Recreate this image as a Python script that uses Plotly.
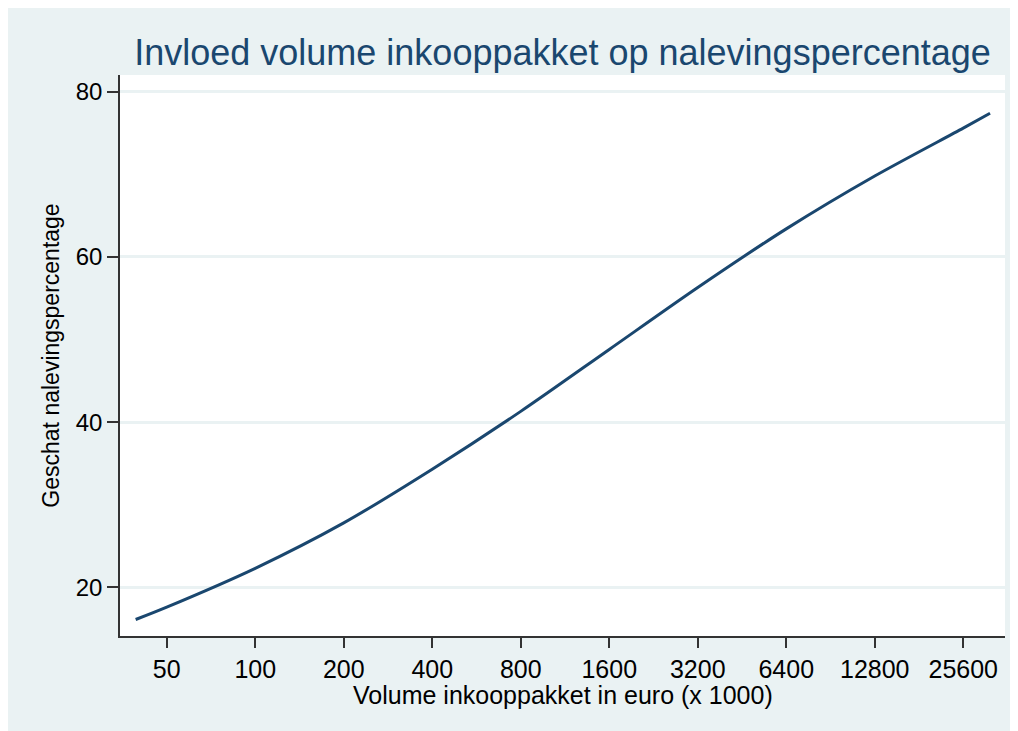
import plotly.graph_objects as go

# Volume inkooppakket (x 1000 euro) and geschat nalevingspercentage
volume = [39.2, 50, 100, 200, 400, 800, 1600, 3200, 6400, 12800, 25600, 31580]
naleving = [16.1, 17.6, 22.3, 27.8, 34.3, 41.3, 48.8, 56.3, 63.4, 69.8, 75.6, 77.4]

x_ticks = [50, 100, 200, 400, 800, 1600, 3200, 6400, 12800, 25600]
y_ticks = [20, 40, 60, 80]

BG = "#EAF2F3"
NAVY = "#1A476F"
FONT = "Liberation Sans, Arial, sans-serif"

# the page adds an 8px white border top/left, which the reference also has
W, H = 1018, 731
L, R, T, B = 112, 21, 67, 103
ph = H - T - B

fig = go.Figure()
fig.add_trace(go.Scatter(
    x=volume,
    y=naleving,
    mode="lines",
    line=dict(color=NAVY, width=3, shape="spline", smoothing=0.8),
    showlegend=False,
))

fig.update_layout(
    width=W,
    height=H,
    margin=dict(l=L, r=R, t=T, b=B),
    paper_bgcolor=BG,
    plot_bgcolor="white",
    font=dict(family=FONT, color="black"),
    title=dict(
        text="Invloed volume inkooppakket op nalevingspercentage",
        font=dict(family=FONT, size=36, color=NAVY),
        x=0.5, xref="paper", xanchor="center",
        y=1 - 44 / H, yref="container", yanchor="middle",
    ),
)

# x axis title as annotation so it sits as close to the ticks as in the reference
fig.add_annotation(
    text="Volume inkooppakket in euro (x 1000)",
    xref="paper", yref="paper", x=0.5, y=-59 / ph,
    xanchor="center", yanchor="middle", showarrow=False,
    font=dict(family=FONT, size=25, color="black"),
)

fig.update_xaxes(
    type="log",
    range=[1.5400, 4.5503],
    tickvals=x_ticks,
    ticktext=[str(v) for v in x_ticks],
    ticks="outside", ticklen=10, tickwidth=1.5, tickcolor="#333333",
    tickfont=dict(size=25, color="black"),
    showline=True, linecolor="#333333", linewidth=1.5,
    showgrid=False, zeroline=False,
)

fig.update_yaxes(
    range=[14.10, 82.03],
    tickvals=y_ticks,
    ticks="outside", ticklen=11, tickwidth=1.5, tickcolor="#333333",
    tickfont=dict(size=24, color="black"),
    ticklabelstandoff=0,
    showline=True, linecolor="#333333", linewidth=1.5,
    showgrid=True, gridcolor=BG, gridwidth=3,
    zeroline=False,
    title=dict(text="Geschat nalevingspercentage",
               font=dict(size=23, color="black"), standoff=10),
)

fig.write_html("out.html")
